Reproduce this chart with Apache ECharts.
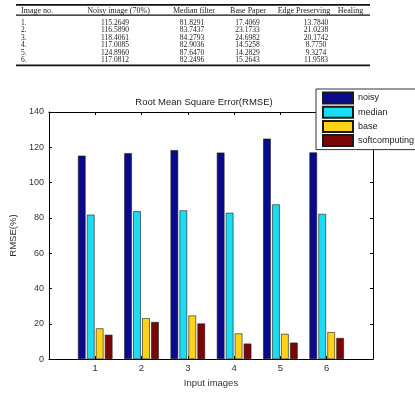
<!DOCTYPE html>
<html><head><meta charset="utf-8">
<script src="https://cdn.jsdelivr.net/npm/echarts@6/dist/echarts.min.js"></script>
<style>html,body{margin:0;padding:0;background:#fff}#c{width:415px;height:393px}</style>
</head><body><div id="c"></div>
<script>
const categories = ['1', '2', '3', '4', '5', '6'];
const rowLabels = ['1.', '2.', '3.', '4.', '5.', '6.'];
const noisy = [115.2649, 116.5890, 118.4061, 117.0085, 124.8960, 117.0812];
const median = [81.8291, 83.7437, 84.2793, 82.9036, 87.6470, 82.2496];
const base = [17.4069, 23.1733, 24.6982, 14.5258, 14.2829, 15.2643];
const softcomputing = [13.7840, 21.0238, 20.1742, 8.7750, 9.3274, 11.9583];
const tableHeaders = ['Image no.', 'Noisy image (70%)', 'Median filter', 'Base Paper', 'Edge Preserving', 'Healing'];
const seriesNames = ['noisy', 'median', 'base', 'softcomputing'];
const titleText = 'Root Mean Square Error(RMSE)';
const xName = 'Input images';
const yName = 'RMSE(%)';

const seriesValues = [noisy, median, base, softcomputing];
const colors = ['#0a0a8c', '#1cdcf4', '#ffd21a', '#7a0606'];
const SANS = 'Liberation Sans, Arial, sans-serif';
const SERIF = 'Liberation Serif, Times New Roman, serif';

// table layout
const headerX = [21, 118.5, 194, 248, 304, 350.5];
const headerAlign = ['left', 'center', 'center', 'center', 'center', 'center'];
const valueX = [115, 192, 247.5, 316];
const graphics = [];
graphics.push({type: 'rect', shape: {x: 16, y: 4, width: 354, height: 1.8}, style: {fill: '#111'}});
graphics.push({type: 'rect', shape: {x: 16, y: 14.6, width: 354, height: 1.2}, style: {fill: '#111'}});
graphics.push({type: 'rect', shape: {x: 16, y: 64.4, width: 354, height: 1.8}, style: {fill: '#111'}});
tableHeaders.forEach((h, i) => {
  graphics.push({type: 'text', x: headerX[i], y: 10.5, style: {text: h, font: '8px ' + SERIF, fill: '#222', align: headerAlign[i], verticalAlign: 'middle'}});
});
rowLabels.forEach((r, i) => {
  const y = 23 + 7.5 * i;
  graphics.push({type: 'text', x: 21, y: y, style: {text: r, font: '7.5px ' + SERIF, fill: '#222', align: 'left', verticalAlign: 'middle'}});
  seriesValues.forEach((arr, k) => {
    graphics.push({type: 'text', x: valueX[k], y: y, style: {text: arr[i].toFixed(4), font: '7.5px ' + SERIF, fill: '#222', align: 'center', verticalAlign: 'middle'}});
  });
});

function axisCommon() {
  return {
    axisLine: {show: true, onZero: false, lineStyle: {color: '#000', width: 1}},
    axisTick: {show: true, inside: true, length: 3, lineStyle: {color: '#000'}},
    splitLine: {show: false}
  };
}

const chart = echarts.init(document.getElementById('c'));
chart.setOption({
  animation: false,
  backgroundColor: '#fff',
  title: {
    text: titleText, left: 204, top: 97, padding: 0, textAlign: 'center',
    textStyle: {fontSize: 9.5, fontWeight: 'normal', color: '#222', fontFamily: SANS}
  },
  grid: {left: 35, top: 112, width: 338, height: 251, containLabel: false},
  legend: {
    data: seriesNames, orient: 'vertical', left: 316, top: 89,
    itemWidth: 30, itemHeight: 11, itemGap: 1.2,
    padding: [2.5, 8, 2.5, 6],
    backgroundColor: '#fff', borderColor: '#333', borderWidth: 1, borderRadius: 0,
    icon: 'rect', selectedMode: false,
    textStyle: {fontSize: 9, lineHeight: 11, color: '#222', fontFamily: SANS}
  },
  xAxis: [
    Object.assign(axisCommon(), {
      type: 'value', min: 0, max: 7, interval: 1, position: 'bottom',
      axisLabel: {formatter: v => categories[v - 1] || '', margin: 4, fontSize: 9.5, color: '#333', fontFamily: SANS},
      name: xName, nameLocation: 'middle', nameGap: 16,
      nameTextStyle: {fontSize: 9.5, color: '#333', fontFamily: SANS}
    }),
    Object.assign(axisCommon(), {
      type: 'value', min: 0, max: 7, interval: 1, position: 'top',
      axisLabel: {show: false}
    })
  ],
  yAxis: [
    Object.assign(axisCommon(), {
      type: 'value', min: 0, max: 140, interval: 20, position: 'left',
      axisLabel: {margin: 5, fontSize: 9, color: '#333', fontFamily: SANS},
      name: yName, nameLocation: 'middle', nameGap: 27, nameRotate: 90,
      nameTextStyle: {fontSize: 9.5, color: '#333', fontFamily: SANS}
    }),
    Object.assign(axisCommon(), {
      type: 'value', min: 0, max: 140, interval: 20, position: 'right',
      axisLabel: {show: false}
    })
  ],
  series: seriesNames.map((n, k) => ({
    type: 'bar', name: n, xAxisIndex: 0, yAxisIndex: 0,
    data: categories.map((c, i) => [i + 1, seriesValues[k][i]]),
    barWidth: 7.6, barGap: '18%',
    itemStyle: {color: colors[k], borderColor: '#1a1a1a', borderWidth: 0.6}
  })),
  graphic: graphics
});
</script>
</body></html>
